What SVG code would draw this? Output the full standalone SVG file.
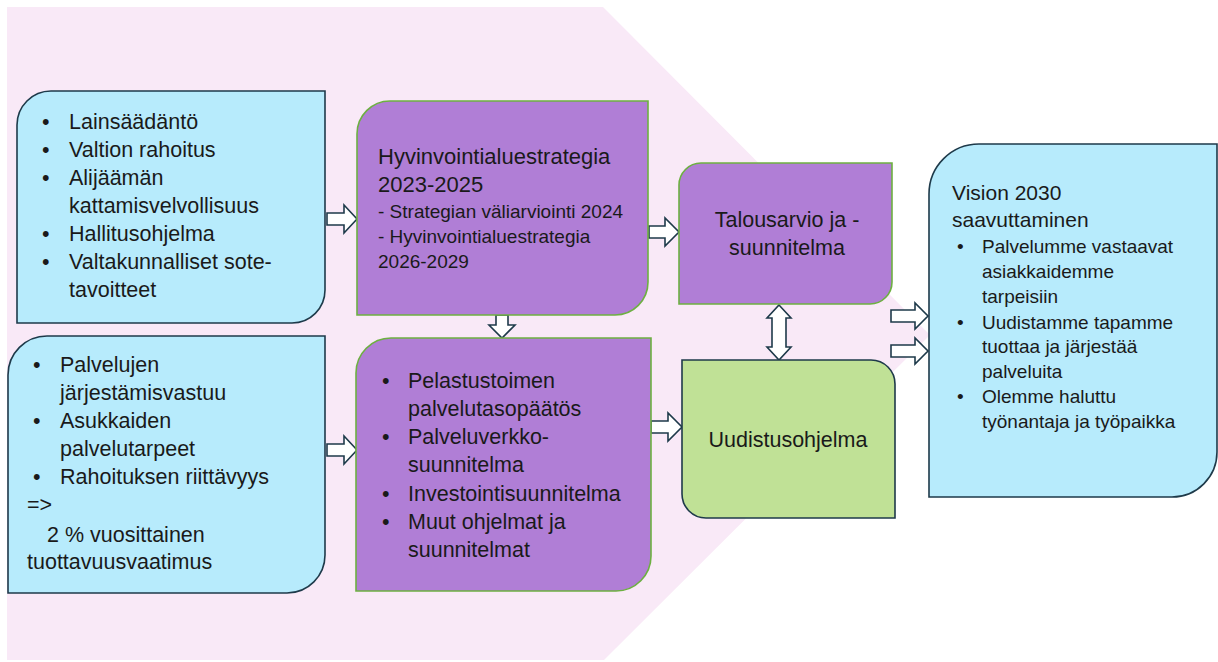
<svg xmlns="http://www.w3.org/2000/svg" width="1218" height="662" viewBox="0 0 1218 662">
<style>
.bg{fill:#F9E9F7;}
.blue{fill:#B7EBFC;stroke:#1E3A4A;stroke-width:1.6;}
.purple{fill:#B07ED6;stroke:#6DB041;stroke-width:1.6;}
.green{fill:#C0E196;stroke:#1E3A4A;stroke-width:1.6;}
.arr{fill:#FFFFFF;stroke:#1E3A4A;stroke-width:1.6;stroke-linejoin:miter;}
text{font-family:"Liberation Sans",Arial,sans-serif;fill:#1A1A1A;}
.t{font-size:21.5px;}
.h{font-size:22px;}
.s{font-size:19px;}
.r{font-size:19px;}
.rh{font-size:21px;}
.c{text-anchor:middle;}
</style>
<rect width="1218" height="662" fill="#FFFFFF"/>
<polygon class="bg" points="7,7 603,7 930,335 604,660 7,660"/>

<g id="connectors">
<path class="arr" d="M327,213 H344 V205 L357,219 L344,233 V225 H327 Z"/>
<path class="arr" d="M327,444 H344 V436 L357,450 L344,464 V456 H327 Z"/>
<path class="arr" d="M496,315 V325 H489 L502,338 L515,325 H508 V315 Z"/>
<path class="arr" d="M649,226 H665 V218 L679,232 L665,246 V238 H649 Z"/>
<path class="arr" d="M651,421 H668 V413 L682,427 L668,441 V433 H651 Z"/>
<path class="arr" d="M779,305 L791,318 H786 V347 H791 L779,360 L767,347 H772 V318 H767 Z"/>
<path class="arr" d="M891,310 H915 V303 L928,316 L915,329 V322 H891 Z"/>
<path class="arr" d="M891,345 H915 V338 L928,351 L915,364 V357 H891 Z"/>
</g>

<g id="node-lainsaadanto">
<path class="blue" d="M17,125 A34,34 0 0 1 51,91 H325 V290 A33,33 0 0 1 292,323 H17 Z"/>
<text class="t" x="42" y="129">•</text><text class="t" x="69" y="129">Lainsäädäntö</text>
<text class="t" x="42" y="157">•</text><text class="t" x="69" y="157">Valtion rahoitus</text>
<text class="t" x="42" y="185">•</text><text class="t" x="69" y="185">Alijäämän</text>
<text class="t" x="69" y="213">kattamisvelvollisuus</text>
<text class="t" x="42" y="241">•</text><text class="t" x="69" y="241">Hallitusohjelma</text>
<text class="t" x="42" y="269">•</text><text class="t" x="69" y="269">Valtakunnalliset sote-</text>
<text class="t" x="69" y="297">tavoitteet</text>
</g>

<g id="node-palvelut">
<path class="blue" d="M8,375 A39,39 0 0 1 47,336 H325 V555 A38,38 0 0 1 287,593 H8 Z"/>
<text class="t" x="33" y="372">•</text><text class="t" x="60" y="372">Palvelujen</text>
<text class="t" x="60" y="400">järjestämisvastuu</text>
<text class="t" x="33" y="428">•</text><text class="t" x="60" y="428">Asukkaiden</text>
<text class="t" x="60" y="456">palvelutarpeet</text>
<text class="t" x="33" y="484">•</text><text class="t" x="60" y="484">Rahoituksen riittävyys</text>
<text class="t" x="27" y="512">=&gt;</text>
<text class="t" x="47" y="542">2 % vuosittainen</text>
<text class="t" x="27" y="569">tuottavuusvaatimus</text>
</g>

<g id="node-strategia">
<path class="purple" d="M357,134 A33,33 0 0 1 390,101 H648 V282 A33,33 0 0 1 615,315 H357 Z"/>
<text class="h" x="378" y="164">Hyvinvointialuestrategia</text>
<text class="h" x="378" y="192">2023-2025</text>
<text class="s" x="378" y="218">- Strategian väliarviointi 2024</text>
<text class="s" x="378" y="243">- Hyvinvointialuestrategia</text>
<text class="s" x="378" y="268">2026-2029</text>
</g>

<g id="node-suunnitelmat">
<path class="purple" d="M356,373 A35,35 0 0 1 391,338 H651 V556 A35,35 0 0 1 616,591 H356 Z"/>
<text class="t" x="382" y="388">•</text><text class="t" x="408" y="388">Pelastustoimen</text>
<text class="t" x="408" y="416">palvelutasopäätös</text>
<text class="t" x="382" y="444">•</text><text class="t" x="408" y="444">Palveluverkko-</text>
<text class="t" x="408" y="472">suunnitelma</text>
<text class="t" x="382" y="501">•</text><text class="t" x="408" y="501">Investointisuunnitelma</text>
<text class="t" x="382" y="529">•</text><text class="t" x="408" y="529">Muut ohjelmat ja</text>
<text class="t" x="408" y="557">suunnitelmat</text>
</g>

<g id="node-talousarvio">
<path class="purple" d="M679,185 A22,22 0 0 1 701,163 H892 V282 A22,22 0 0 1 870,304 H679 Z"/>
<text class="t c" x="787" y="227">Talousarvio ja -</text>
<text class="t c" x="787" y="255">suunnitelma</text>
</g>

<g id="node-uudistusohjelma">
<path class="green" d="M682,360 H871 A24,24 0 0 1 895,384 V518 H706 A24,24 0 0 1 682,494 Z"/>
<text class="t c" x="788" y="447">Uudistusohjelma</text>
</g>

<g id="node-visio">
<path class="blue" d="M929,194 A50,50 0 0 1 979,144 H1217 V452 A45,45 0 0 1 1172,497 H929 Z"/>
<text class="rh" x="952" y="200">Vision 2030</text>
<text class="rh" x="952" y="227">saavuttaminen</text>
<text class="r" x="957" y="253">•</text><text class="r" x="982" y="253">Palvelumme vastaavat</text>
<text class="r" x="982" y="278">asiakkaidemme</text>
<text class="r" x="982" y="303">tarpeisiin</text>
<text class="r" x="957" y="329">•</text><text class="r" x="982" y="329">Uudistamme tapamme</text>
<text class="r" x="982" y="353">tuottaa ja järjestää</text>
<text class="r" x="982" y="378">palveluita</text>
<text class="r" x="957" y="403">•</text><text class="r" x="982" y="403">Olemme haluttu</text>
<text class="r" x="982" y="428">työnantaja ja työpaikka</text>
</g>
</svg>
